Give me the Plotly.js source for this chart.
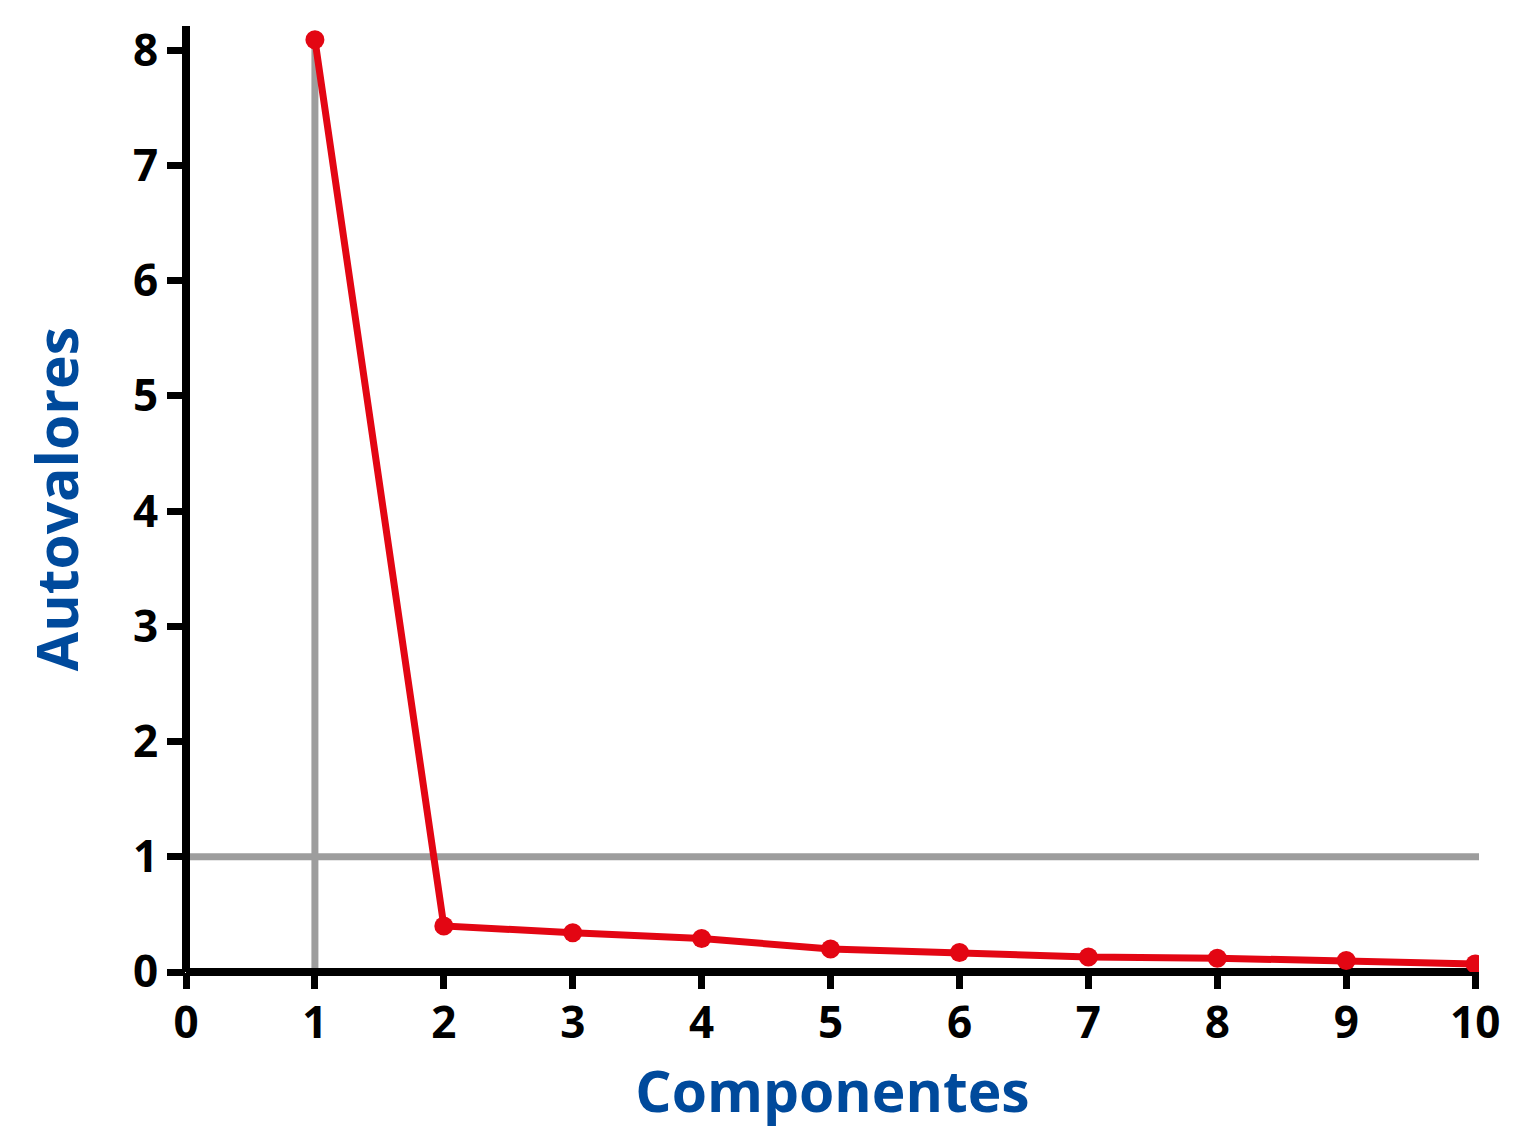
<!DOCTYPE html>
<html>
<head>
<meta charset="utf-8">
<script src="https://cdn.plot.ly/plotly-3.0.1.min.js"></script>
<style>
  html, body { margin: 0; padding: 0; background: #ffffff; }
  #chart { width: 1518px; height: 1129px; }
</style>
</head>
<body>
<div id="chart"></div>
<script>
// Data
const componentes = [1, 2, 3, 4, 5, 6, 7, 8, 9, 10];
const autovalores = [8.09, 0.40, 0.34, 0.29, 0.20, 0.17, 0.13, 0.12, 0.10, 0.07];
const xTicks = [0, 1, 2, 3, 4, 5, 6, 7, 8, 9, 10];
const yTicks = [0, 1, 2, 3, 4, 5, 6, 7, 8];
const kaiserCriterion = 1;   // horizontal reference line (eigenvalue = 1)
const xTitle = 'Componentes';
const yTitle = 'Autovalores';

const red = '#e30613';
const gray = '#9d9d9d';
const blue = '#004a9c';
const tickFont = { family: 'Open Sans, Noto Sans, sans-serif', size: 44, color: '#000000', weight: 700 };
const titleFont = { family: 'Open Sans, Noto Sans, sans-serif', size: 57, color: blue, weight: 700 };

const trace = {
  x: componentes,
  y: autovalores,
  type: 'scatter',
  mode: 'lines+markers',
  line: { color: red, width: 7 },
  marker: { color: red, size: 19 },
  hoverinfo: 'x+y',
  showlegend: false
};

const layout = {
  width: 1518,
  height: 1129,
  margin: { l: 186, r: 39, t: 26, b: 157 },
  paper_bgcolor: '#ffffff',
  plot_bgcolor: '#ffffff',
  showlegend: false,
  xaxis: {
    range: [0, 10.03],
    tickvals: xTicks,
    ticktext: xTicks.map(String),
    ticks: 'outside',
    ticklen: 16,
    tickwidth: 7,
    tickcolor: '#000000',
    tickfont: tickFont,
    ticklabelstandoff: -4,
    showgrid: false,
    showline: false,
    zeroline: true,
    zerolinecolor: '#000000',
    zerolinewidth: 7.5,
    title: { text: xTitle, font: titleFont, standoff: 36 }
  },
  yaxis: {
    range: [0, 8.21],
    tickvals: yTicks,
    ticktext: yTicks.map(String),
    ticks: 'outside',
    ticklen: 18,
    tickwidth: 7,
    tickcolor: '#000000',
    tickfont: tickFont,
    showgrid: false,
    showline: false,
    zeroline: true,
    zerolinecolor: '#000000',
    zerolinewidth: 7.5,
    title: { text: yTitle, font: titleFont, standoff: 36 }
  },
  shapes: [
    {
      type: 'line', layer: 'below',
      xref: 'x', yref: 'y',
      x0: -0.14, x1: 10.05, y0: kaiserCriterion, y1: kaiserCriterion,
      line: { color: gray, width: 7 }
    },
    {
      type: 'line', layer: 'below',
      xref: 'x', yref: 'y',
      x0: componentes[0], x1: componentes[0], y0: 0, y1: autovalores[0],
      line: { color: gray, width: 7 }
    }
  ]
};

Plotly.newPlot('chart', [trace], layout, { displayModeBar: false, staticPlot: true });
</script>
</body>
</html>
